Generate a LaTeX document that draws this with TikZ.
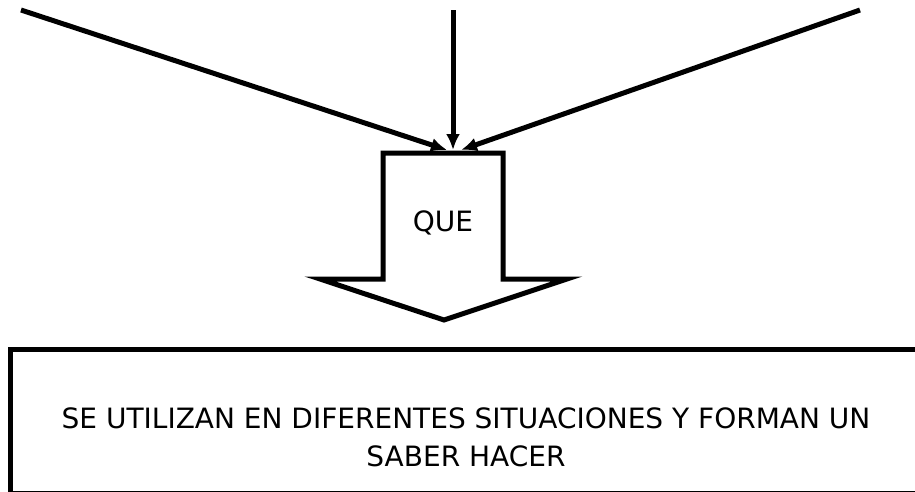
\documentclass[tikz,border=0pt]{standalone}
\usepackage{fontspec}
\setmainfont{DejaVu Sans}
\usetikzlibrary{arrows.meta}

\begin{document}
\begin{tikzpicture}[x=1pt, y=-1pt, font=\fontsize{28}{38}\selectfont,
  feed/.style={line width=5pt, -{Latex[length=16pt,width=14pt]}},
  block/.style={line width=5pt, line join=miter, fill=white}]
\useasboundingbox (0,0) rectangle (915,491);
\clip (0,0) rectangle (915,491);
% result box, cut by the page on the right and bottom
\draw[line width=5pt, fill=white] (10,349) rectangle (930,493);
\node[align=center] (result) at (466,437) {SE UTILIZAN EN DIFERENTES SITUACIONES Y FORMAN UN\\SABER HACER};
% big arrow
\draw[block] (383,153) -- (503,153) -- (503,279) -- (567,279) -- (444,320) -- (320,279) -- (383,279) -- cycle;
\node (que) at (443,223) {QUE};
\coordinate (top) at (453,150);
\coordinate (left) at (21,10);
\coordinate (mid) at (453,10);
\coordinate (right) at (860,10);
\draw[feed] (left) -- ([xshift=-6pt]top);
\draw[feed] (mid) -- (top);
\draw[feed] (right) -- ([xshift=8pt]top);
\end{tikzpicture}
\end{document}
